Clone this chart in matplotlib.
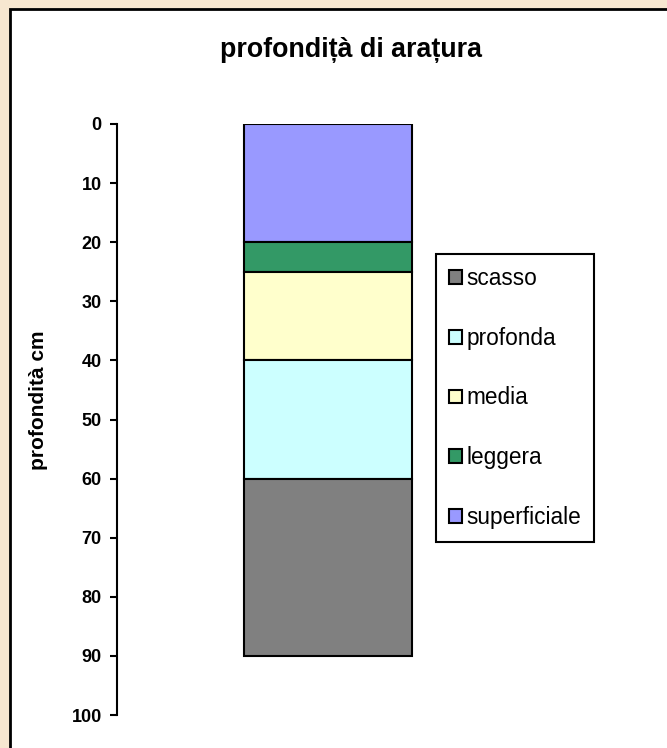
import matplotlib.pyplot as plt
from matplotlib.patches import Rectangle

# strati di aratura, dall'alto verso il basso (cm)
layers = ['superficiale', 'leggera', 'media', 'profonda', 'scasso']
spessori = [20, 5, 15, 20, 30]
colori = ['#9999FF', '#339966', '#FFFFCC', '#CCFFFF', '#808080']
yticks = [0, 10, 20, 30, 40, 50, 60, 70, 80, 90, 100]

W, H = 667, 748
fig = plt.figure(figsize=(W / 100, H / 100), dpi=100)
fig.patch.set_facecolor('#F7E7D0')
plt.rcParams['font.family'] = ['Liberation Sans', 'DejaVu Sans']

# riquadro bianco del grafico
fig.patches.append(Rectangle((10 / W, -0.05), 1.1, 1 - 9 / H + 0.05,
                             transform=fig.transFigure, facecolor='white',
                             edgecolor='black', lw=2, zorder=-1))

ax = fig.add_axes([117 / W, 1 - 715 / H, (540 - 117) / W, (715 - 124) / H])
ax.set_facecolor('none')
ax.set_zorder(2)

bottom = 0
bars = []
for nome, s, c in zip(layers, spessori, colori):
    b = ax.bar(0, s, bottom=bottom, width=1.0, color=c, edgecolor='black',
               linewidth=1.5, label=nome)
    bars.append(b)
    bottom += s

ax.set_xlim(-(328 - 117) / 168, (540 - 328) / 168)
ax.set_ylim(100, 0)
ax.set_yticks(yticks)
ax.set_xticks([])
for sp in ['top', 'right', 'bottom']:
    ax.spines[sp].set_visible(False)
ax.spines['left'].set_linewidth(1.5)
ax.tick_params(axis='y', length=5, width=1.5, pad=6, labelsize=13)
for t in ax.get_yticklabels():
    t.set_fontweight('bold')
ax.set_ylabel('profondità cm', fontsize=15, fontweight='bold')
ax.yaxis.set_label_coords(-0.163, 0.533)

fig.text(351 / W, 1 - 50 / H, 'profondițà di arațura', ha='center', va='center',
         fontsize=19.3, fontweight='bold')

leg = fig.legend(bars[::-1], layers[::-1], loc='upper left',
                 bbox_to_anchor=(436 / W, 1 - 254 / H), fontsize=16.3,
                 frameon=True, fancybox=False, edgecolor='black', framealpha=1,
                 handlelength=0.55, handleheight=0.55, handletextpad=0.2,
                 labelspacing=1.62, borderpad=0.58, borderaxespad=0)
leg.get_frame().set_linewidth(1.5)
leg.set_zorder(3)

fig.savefig('out.png', dpi=100, facecolor=fig.get_facecolor())
